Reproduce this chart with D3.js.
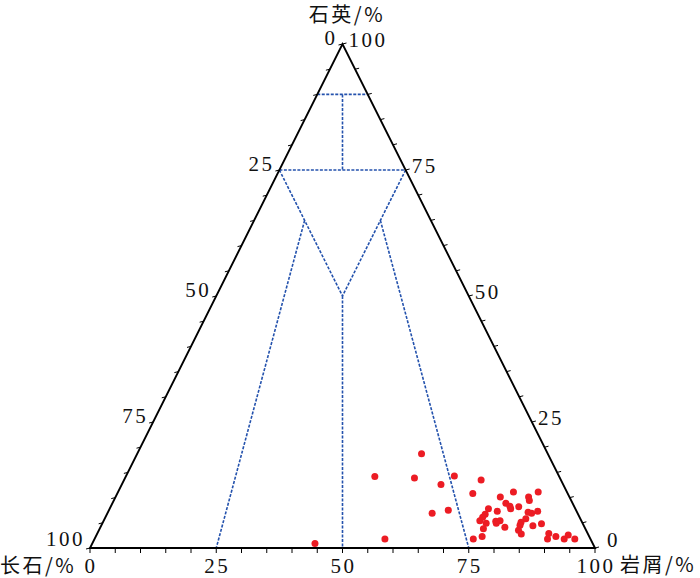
<!DOCTYPE html>
<html>
<head>
<meta charset="utf-8">
<script src="https://cdn.jsdelivr.net/npm/d3@7"></script>
<style>
  body { margin: 0; background: #fff; }
  svg { display: block; }
  .num { font-family: "Liberation Serif", "DejaVu Serif", serif; font-size: 21px; letter-spacing: 2.5px; fill: #111; }
  .ttl { font-family: "Noto Sans CJK SC", sans-serif; font-size: 20px; letter-spacing: 2.5px; fill: #111; }
</style>
</head>
<body>
<svg id="s" width="700" height="578"></svg>
<script>
// Data: quartz / feldspar / rock fragments, %
const quartz   = [18.7, 14.2, 13.9, 14.3, 12.6, 13.5, 10.8, 11.1, 10.1, 11.1, 10.1, 9.4, 8.9, 8.3, 7.8, 8.2, 7.8, 7.3, 6.9, 7.5, 6.7, 6.1, 5.4, 7.1, 6.9, 7.3, 5.3, 5.4, 4.9, 4.9, 5.8, 5.1, 4.5, 4.8, 4.4, 4.1, 3.8, 3.5, 2.8, 2.9, 2.3, 1.8, 1.8, 2.6, 1.8, 2.3, 1.8, 1.8, 0.9],
  feldspar = [25.0, 36.5, 28.8, 20.7, 24.2, 15.8, 18.8, 10.6, 13.7, 5.7, 8.1, 8.3, 13.2, 12.7, 12.8, 11.0, 17.2, 15.7, 28.8, 25.3, 18.4, 19.2, 20.1, 9.7, 9.1, 7.7, 17.0, 16.1, 17.1, 19.1, 10.8, 12.1, 12.6, 8.2, 10.1, 15.8, 20.2, 13.4, 13.2, 7.7, 6.6, 8.5, 5.2, 4.0, 3.1, 21.2, 23.2, 40.7, 55.0],
  rockFrag = [56.3, 49.3, 57.3, 65.0, 63.2, 70.7, 70.4, 78.3, 76.2, 83.2, 81.8, 82.3, 77.9, 79.0, 79.4, 80.8, 75.0, 77.0, 64.3, 67.2, 74.9, 74.7, 74.5, 83.2, 84.0, 85.0, 77.7, 78.5, 78.0, 76.0, 83.4, 82.8, 82.9, 87.0, 85.5, 80.1, 76.0, 83.1, 84.0, 89.4, 91.1, 89.7, 93.0, 93.4, 95.1, 76.5, 75.0, 57.5, 44.1];

const tickLabels = [0, 25, 50, 75, 100];
const minorTicks = d3.range(0, 101, 5);

// classification lines, each [Q, F, R] -> [Q, F, R]
const fields = [
  [[90, 10, 0], [90, 0, 10]],
  [[75, 25, 0], [75, 0, 25]],
  [[90, 5, 5], [75, 12.5, 12.5]],
  [[75, 25, 0], [50, 25, 25]],
  [[75, 0, 25], [50, 25, 25]],
  [[50, 25, 25], [0, 50, 50]],
  [[65, 25, 10], [0, 75, 25]],
  [[65, 10, 25], [0, 25, 75]]
];

const svg = d3.select("#s"),
  xs = d3.scaleLinear().domain([0, 100]).range([90, 595]),
  ys = d3.scaleLinear().domain([0, 100]).range([548, 44]),
  pt = (q, f, r) => [xs(r + q / 2), ys(q)];

// blue field boundaries
svg.append("g")
  .selectAll("line").data(fields).join("line")
  .attr("x1", d => pt(...d[0])[0]).attr("y1", d => pt(...d[0])[1])
  .attr("x2", d => pt(...d[1])[0]).attr("y2", d => pt(...d[1])[1])
  .attr("stroke", "#2452ad").attr("stroke-width", 1.6)
  .attr("stroke-dasharray", "3,1.5");

// triangle
svg.append("path")
  .attr("d", d3.line()([pt(0, 100, 0), pt(0, 0, 100), pt(100, 0, 0)]) + "Z")
  .attr("fill", "none").attr("stroke", "#000").attr("stroke-width", 1.9);

const ticks = svg.append("g").attr("stroke", "#000").attr("stroke-width", 1);
// bottom (rock fragments)
ticks.selectAll(".b").data(minorTicks).join("line")
  .attr("x1", v => pt(0, 100 - v, v)[0]).attr("x2", v => pt(0, 100 - v, v)[0])
  .attr("y1", ys(0)).attr("y2", ys(0) + 5);
// left (feldspar)
ticks.selectAll(".l").data(minorTicks).join("line")
  .attr("x1", v => pt(100 - v, v, 0)[0]).attr("x2", v => pt(100 - v, v, 0)[0] - 4)
  .attr("y1", v => pt(100 - v, v, 0)[1]).attr("y2", v => pt(100 - v, v, 0)[1] + 1);
// right (quartz)
ticks.selectAll(".r").data(minorTicks).join("line")
  .attr("x1", v => pt(v, 0, 100 - v)[0]).attr("x2", v => pt(v, 0, 100 - v)[0] + 4)
  .attr("y1", v => pt(v, 0, 100 - v)[1]).attr("y2", v => pt(v, 0, 100 - v)[1] - 1);

// tick labels
svg.selectAll(".lb").data(tickLabels).join("text").attr("class", "num")
  .attr("x", v => pt(0, 100 - v, v)[0] + 1).attr("y", 573)
  .attr("text-anchor", "middle").text(d => d);
svg.selectAll(".ll").data(tickLabels).join("text").attr("class", "num")
  .attr("x", v => pt(100 - v, v, 0)[0] - 5).attr("y", v => pt(100 - v, v, 0)[1] + (v === 100 ? -2 : 1))
  .attr("text-anchor", "end").text(d => d);
svg.selectAll(".lr").data(tickLabels).join("text").attr("class", "num")
  .attr("x", v => pt(v, 0, 100 - v)[0] + (v === 0 ? 12 : 6)).attr("y", v => pt(v, 0, 100 - v)[1] + (v === 0 ? -1 : 3))
  .text(d => d);

// axis titles
svg.append("text").attr("class", "ttl").attr("x", 347).attr("y", 22).attr("text-anchor", "middle").text("石英/%");
svg.append("text").attr("class", "ttl").attr("x", 0).attr("y", 573).text("长石/%");
svg.append("text").attr("class", "ttl").attr("x", 620).attr("y", 572).text("岩屑/%");

// samples
svg.append("g")
  .selectAll("circle").data(quartz).join("circle")
  .attr("cx", (q, i) => pt(q, feldspar[i], rockFrag[i])[0])
  .attr("cy", (q, i) => pt(q, feldspar[i], rockFrag[i])[1])
  .attr("r", 3.5)
  .attr("fill", "#ec1c24");
</script>
</body>
</html>
